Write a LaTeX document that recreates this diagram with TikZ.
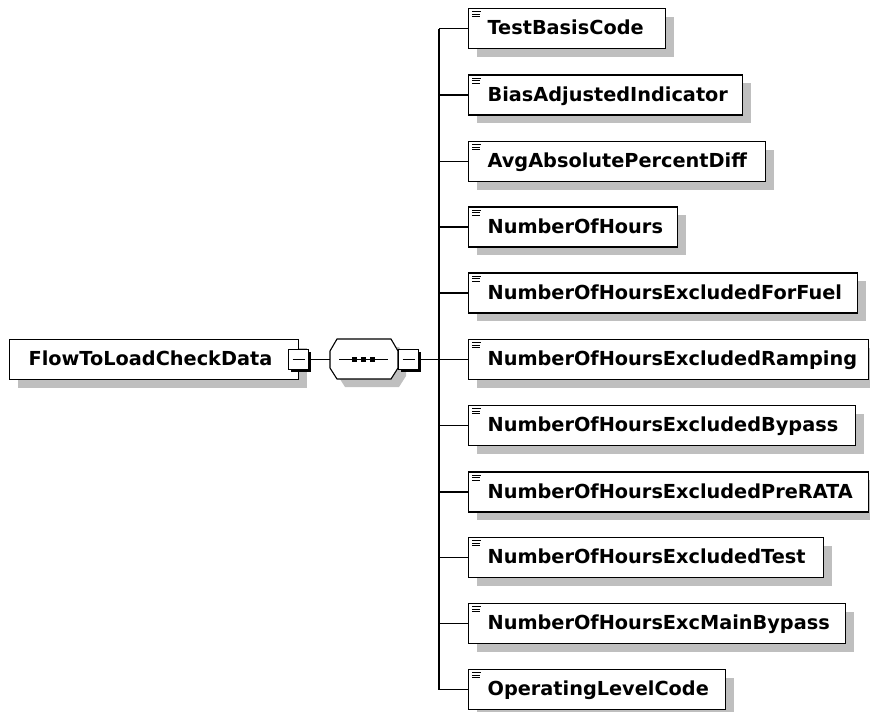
\documentclass[tikz,border=0pt]{standalone}
\usepackage{fontspec}
\newfontfamily\djv{DejaVu Sans}
\usetikzlibrary{shadows}
\newcommand{\boxlbl}[2]{\makebox[#1][l]{\hspace{19pt}#2}}
\tikzset{
  elbox/.style={draw, line width=1.2pt, fill=white, anchor=west,
    minimum height=40pt, inner xsep=0pt, inner ysep=0pt,
    text height=13pt, text depth=1pt,
    font=\djv\bfseries\fontsize{19.3}{22}\selectfont,
    drop shadow={shadow xshift=8pt, shadow yshift=-8pt, fill=black!25, opacity=1}},
  expbox/.style={draw, line width=1.1pt, fill=white, minimum size=20pt, inner sep=0pt,
    drop shadow={shadow xshift=2pt, shadow yshift=-2pt, fill=black, opacity=1}},
  conn/.style={line width=1.1pt},
  icon/.style={line width=1pt},
}
\begin{document}
\begin{tikzpicture}[x=1pt, y=-1pt]
\useasboundingbox (0,0) rectangle (870,712);
% root element
\node[elbox] (root) at (9,359.5) {\boxlbl{289pt}{FlowToLoadCheckData}};
\node[expbox] (e1) at (298.5,359.5) {};
\draw[line width=1pt] ([xshift=-6pt]e1.center) -- ([xshift=6pt]e1.center);
% sequence compositor
\begin{scope}[shift={(8,8)}]
  \fill[black!25] (337,339) -- (391,339) -- (398,351) -- (398,368) -- (391,379) -- (337,379) -- (330,368) -- (330,351) -- cycle;
\end{scope}
\draw[line width=1.1pt, fill=white] (337,339) -- (391,339) -- (398,351) -- (398,368) -- (391,379) -- (337,379) -- (330,368) -- (330,351) -- cycle;
\node[minimum width=68pt, minimum height=40pt, inner sep=0pt] (seq) at (364,359.5) {};
\draw[line width=1pt] (339,359.5) -- (388,359.5);
\foreach \cx in {354.5,363.5,372.5}
  \fill (\cx-2.5,357) rectangle (\cx+2.5,362);
\node[expbox] (e2) at (408.5,359.5) {};
\draw[line width=1pt] ([xshift=-6pt]e2.center) -- ([xshift=6pt]e2.center);
\coordinate (tr) at (439,359.5);
% children
\node[elbox] (c1)  at (468,28.5)  {\boxlbl{197pt}{TestBasisCode}};
\node[elbox] (c2)  at (468,95)    {\boxlbl{274pt}{BiasAdjustedIndicator}};
\node[elbox] (c3)  at (468,161.5) {\boxlbl{297pt}{AvgAbsolutePercentDiff}};
\node[elbox] (c4)  at (468,227)   {\boxlbl{209pt}{NumberOfHours}};
\node[elbox] (c5)  at (468,293)   {\boxlbl{389pt}{NumberOfHoursExcludedForFuel}};
\node[elbox] (c6)  at (468,359.5) {\boxlbl{400pt}{NumberOfHoursExcludedRamping}};
\node[elbox] (c7)  at (468,425.5) {\boxlbl{387pt}{NumberOfHoursExcludedBypass}};
\node[elbox] (c8)  at (468,492)   {\boxlbl{400pt}{NumberOfHoursExcludedPreRATA}};
\node[elbox] (c9)  at (468,557.5) {\boxlbl{355pt}{NumberOfHoursExcludedTest}};
\node[elbox] (c10) at (468,623.5) {\boxlbl{377pt}{NumberOfHoursExcMainBypass}};
\node[elbox] (c11) at (468,689.5) {\boxlbl{257pt}{OperatingLevelCode}};
\foreach \i in {1,...,11}{
  \draw[icon] ([shift={(4,4)}]c\i.north west) -- ++(9,0);
  \draw[icon] ([shift={(4,6.5)}]c\i.north west) -- ++(8,0);
  \draw[icon] ([shift={(4,9)}]c\i.north west) -- ++(8,0);
  \draw[conn] (tr |- c\i.west) -- (c\i.west);
}
% connectors
\draw[conn] (e1.east) -- (seq.west);
\draw[conn] (e2.east) -- (tr);
\draw[conn] (tr |- c1.west) -- (tr |- c11.west);
\end{tikzpicture}
\end{document}
